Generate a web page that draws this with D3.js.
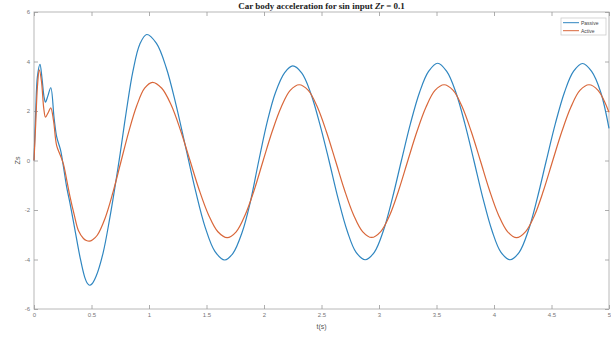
<!DOCTYPE html>
<html><head><meta charset="utf-8">
<script src="https://cdn.jsdelivr.net/npm/d3@7"></script>
<style>body{margin:0;background:#fff}svg{display:block}</style>
</head><body>
<script>
const titleText = "Car body acceleration for sin input ";
const xTicks = [0,0.5,1,1.5,2,2.5,3,3.5,4,4.5,5];
const xTickLabels = ["0","0.5","1","1.5","2","2.5","3","3.5","4","4.5","5"];
const yTicks = [-6,-4,-2,0,2,4,6];
const yTickLabels = ["-6","-4","-2","0","2","4","6"];
const seriesNames = ["Passive","Active"];

const passiveT = [0,0.015,0.03,0.052,0.07,0.088,0.10,0.12,0.146,0.175,0.198,0.232,0.256,0.285,0.314,0.36,0.40,0.44,0.465,0.484,0.505,0.54,0.60,0.66,0.71,0.75,0.80,0.86,0.92,0.98,1.065,1.15,1.234,1.319,1.404,1.488,1.573,1.658,1.73,1.81,1.88,1.955,2.03,2.10,2.18,2.25,2.329,2.408,2.486,2.565,2.644,2.723,2.801,2.88,2.959,3.038,3.116,3.195,3.274,3.353,3.431,3.51,3.589,3.668,3.746,3.825,3.904,3.983,4.061,4.14,4.219,4.298,4.376,4.455,4.534,4.613,4.691,4.77,4.849,4.928,5.0];
const passiveV = [0,2.0,3.4,3.88,3.3,2.55,2.36,2.6,2.94,1.7,0.94,0.4,-0.25,-1.1,-1.75,-2.9,-3.9,-4.7,-4.97,-5.04,-4.98,-4.68,-3.75,-2.3,-0.9,0.3,1.9,3.6,4.7,5.09,4.73,3.75,2.27,0.53,-1.21,-2.69,-3.67,-4.02,-3.75,-2.9,-1.7,0,1.6,2.75,3.55,3.82,3.53,2.7,1.46,0,-1.53,-2.84,-3.71,-4.01,-3.71,-2.84,-1.53,0,1.5,2.76,3.6,3.93,3.6,2.76,1.5,0,-1.53,-2.84,-3.71,-4.01,-3.71,-2.84,-1.53,0,1.5,2.76,3.6,3.92,3.6,2.76,1.3];

const activeT = [0,0.015,0.03,0.046,0.065,0.085,0.10,0.125,0.146,0.17,0.197,0.23,0.256,0.285,0.314,0.35,0.386,0.43,0.455,0.481,0.51,0.55,0.619,0.687,0.756,0.825,0.894,0.962,1.03,1.111,1.193,1.274,1.355,1.436,1.518,1.599,1.68,1.758,1.836,1.915,1.993,2.071,2.15,2.228,2.306,2.385,2.464,2.542,2.621,2.70,2.779,2.857,2.936,3.015,3.094,3.172,3.251,3.33,3.409,3.487,3.566,3.645,3.724,3.802,3.881,3.96,4.039,4.117,4.196,4.275,4.354,4.432,4.511,4.59,4.669,4.747,4.826,4.905,5.0];
const activeV = [0,1.5,3.0,3.66,3.2,2.1,1.75,1.95,2.13,1.6,0.6,0.2,-0.15,-0.8,-1.48,-2.2,-2.83,-3.15,-3.23,-3.26,-3.2,-3.02,-2.32,-1.28,-0.05,1.18,2.22,2.92,3.16,2.92,2.24,1.22,0.02,-1.18,-2.2,-2.88,-3.12,-2.88,-2.2,-1.19,0,1.17,2.16,2.83,3.06,2.83,2.16,1.17,0,-1.19,-2.2,-2.87,-3.11,-2.87,-2.2,-1.19,0,1.17,2.16,2.83,3.06,2.83,2.16,1.17,0,-1.19,-2.2,-2.87,-3.12,-2.87,-2.2,-1.19,0,1.17,2.16,2.83,3.06,2.83,1.95];

const colors = ["#2f86c0","#d9673a"];
const W = 611, H = 339;
const m = {l:34, r:2, t:12, b:30};
const svg = d3.select("body").append("svg").attr("width",W).attr("height",H);
const x = d3.scaleLinear().domain([0,5]).range([m.l, W-m.r]);
const y = d3.scaleLinear().domain([-6,6]).range([H-m.b, m.t]);
const axisColor = "#b8b8b8";

svg.append("rect").attr("x",x(0)).attr("y",y(6)).attr("width",x(5)-x(0)).attr("height",y(-6)-y(6))
  .attr("fill","none").attr("stroke",axisColor).attr("stroke-width",1);

function styleAxis(g){
  g.select(".domain").remove();
  g.selectAll("line").attr("stroke","#999").attr("stroke-width",0.8);
  g.selectAll("text").attr("fill","#777").style("font-family","Liberation Sans, Arial, sans-serif").style("font-size","6px");
}
const xa = svg.append("g").attr("transform",`translate(0,${y(-6)})`)
  .call(d3.axisBottom(x).tickValues(xTicks).tickFormat((d,i)=>xTickLabels[i]).tickSize(-4).tickPadding(4));
styleAxis(xa);
const xt = svg.append("g").attr("transform",`translate(0,${y(6)})`)
  .call(d3.axisTop(x).tickValues(xTicks).tickFormat("").tickSize(-4));
styleAxis(xt);
const ya = svg.append("g").attr("transform",`translate(${x(0)},0)`)
  .call(d3.axisLeft(y).tickValues(yTicks).tickFormat((d,i)=>yTickLabels[i]).tickSize(-4).tickPadding(4));
styleAxis(ya);
const yr = svg.append("g").attr("transform",`translate(${x(5)},0)`)
  .call(d3.axisRight(y).tickValues(yTicks).tickFormat("").tickSize(-4));
styleAxis(yr);

const line = d3.line().x(d=>x(d[0])).y(d=>y(d[1])).curve(d3.curveCatmullRom.alpha(0.5));
const data = [d3.zip(passiveT,passiveV), d3.zip(activeT,activeV)];
data.forEach((ser,i)=>{
  svg.append("path").datum(ser).attr("d",line).attr("fill","none")
    .attr("stroke",colors[i]).attr("stroke-width",1.2);
});

const tt = svg.append("text").attr("x",(x(0)+x(5))/2).attr("y",9).attr("text-anchor","middle")
  .style("font-family","Liberation Serif, Times New Roman, serif").style("font-weight","bold").style("font-size","9px").attr("fill","#222");
tt.append("tspan").text(titleText);
tt.append("tspan").style("font-style","italic").text("Zr");
tt.append("tspan").text(" = 0.1");

svg.append("text").attr("x",(x(0)+x(5))/2).attr("y",329).attr("text-anchor","middle")
  .style("font-family","Liberation Sans, Arial, sans-serif").style("font-size","7px").attr("fill","#555").text("t(s)");
svg.append("text").attr("transform",`translate(20,${y(0)}) rotate(-90)`).attr("text-anchor","middle")
  .style("font-family","Liberation Sans, Arial, sans-serif").style("font-size","7px").attr("fill","#555").text("Zs");

const lg = svg.append("g");
lg.append("rect").attr("x",561).attr("y",18).attr("width",45).attr("height",17).attr("fill","#fff").attr("stroke","#ccc").attr("stroke-width",0.8);
seriesNames.forEach((n,i)=>{
  const yy = 22.7 + i*8;
  lg.append("line").attr("x1",563).attr("x2",579).attr("y1",yy).attr("y2",yy).attr("stroke",colors[i]).attr("stroke-width",1);
  lg.append("text").attr("x",581).attr("y",yy+1.8).style("font-family","Liberation Sans, Arial, sans-serif").style("font-size","5px").attr("fill","#444").text(n);
});
</script>
</body></html>
